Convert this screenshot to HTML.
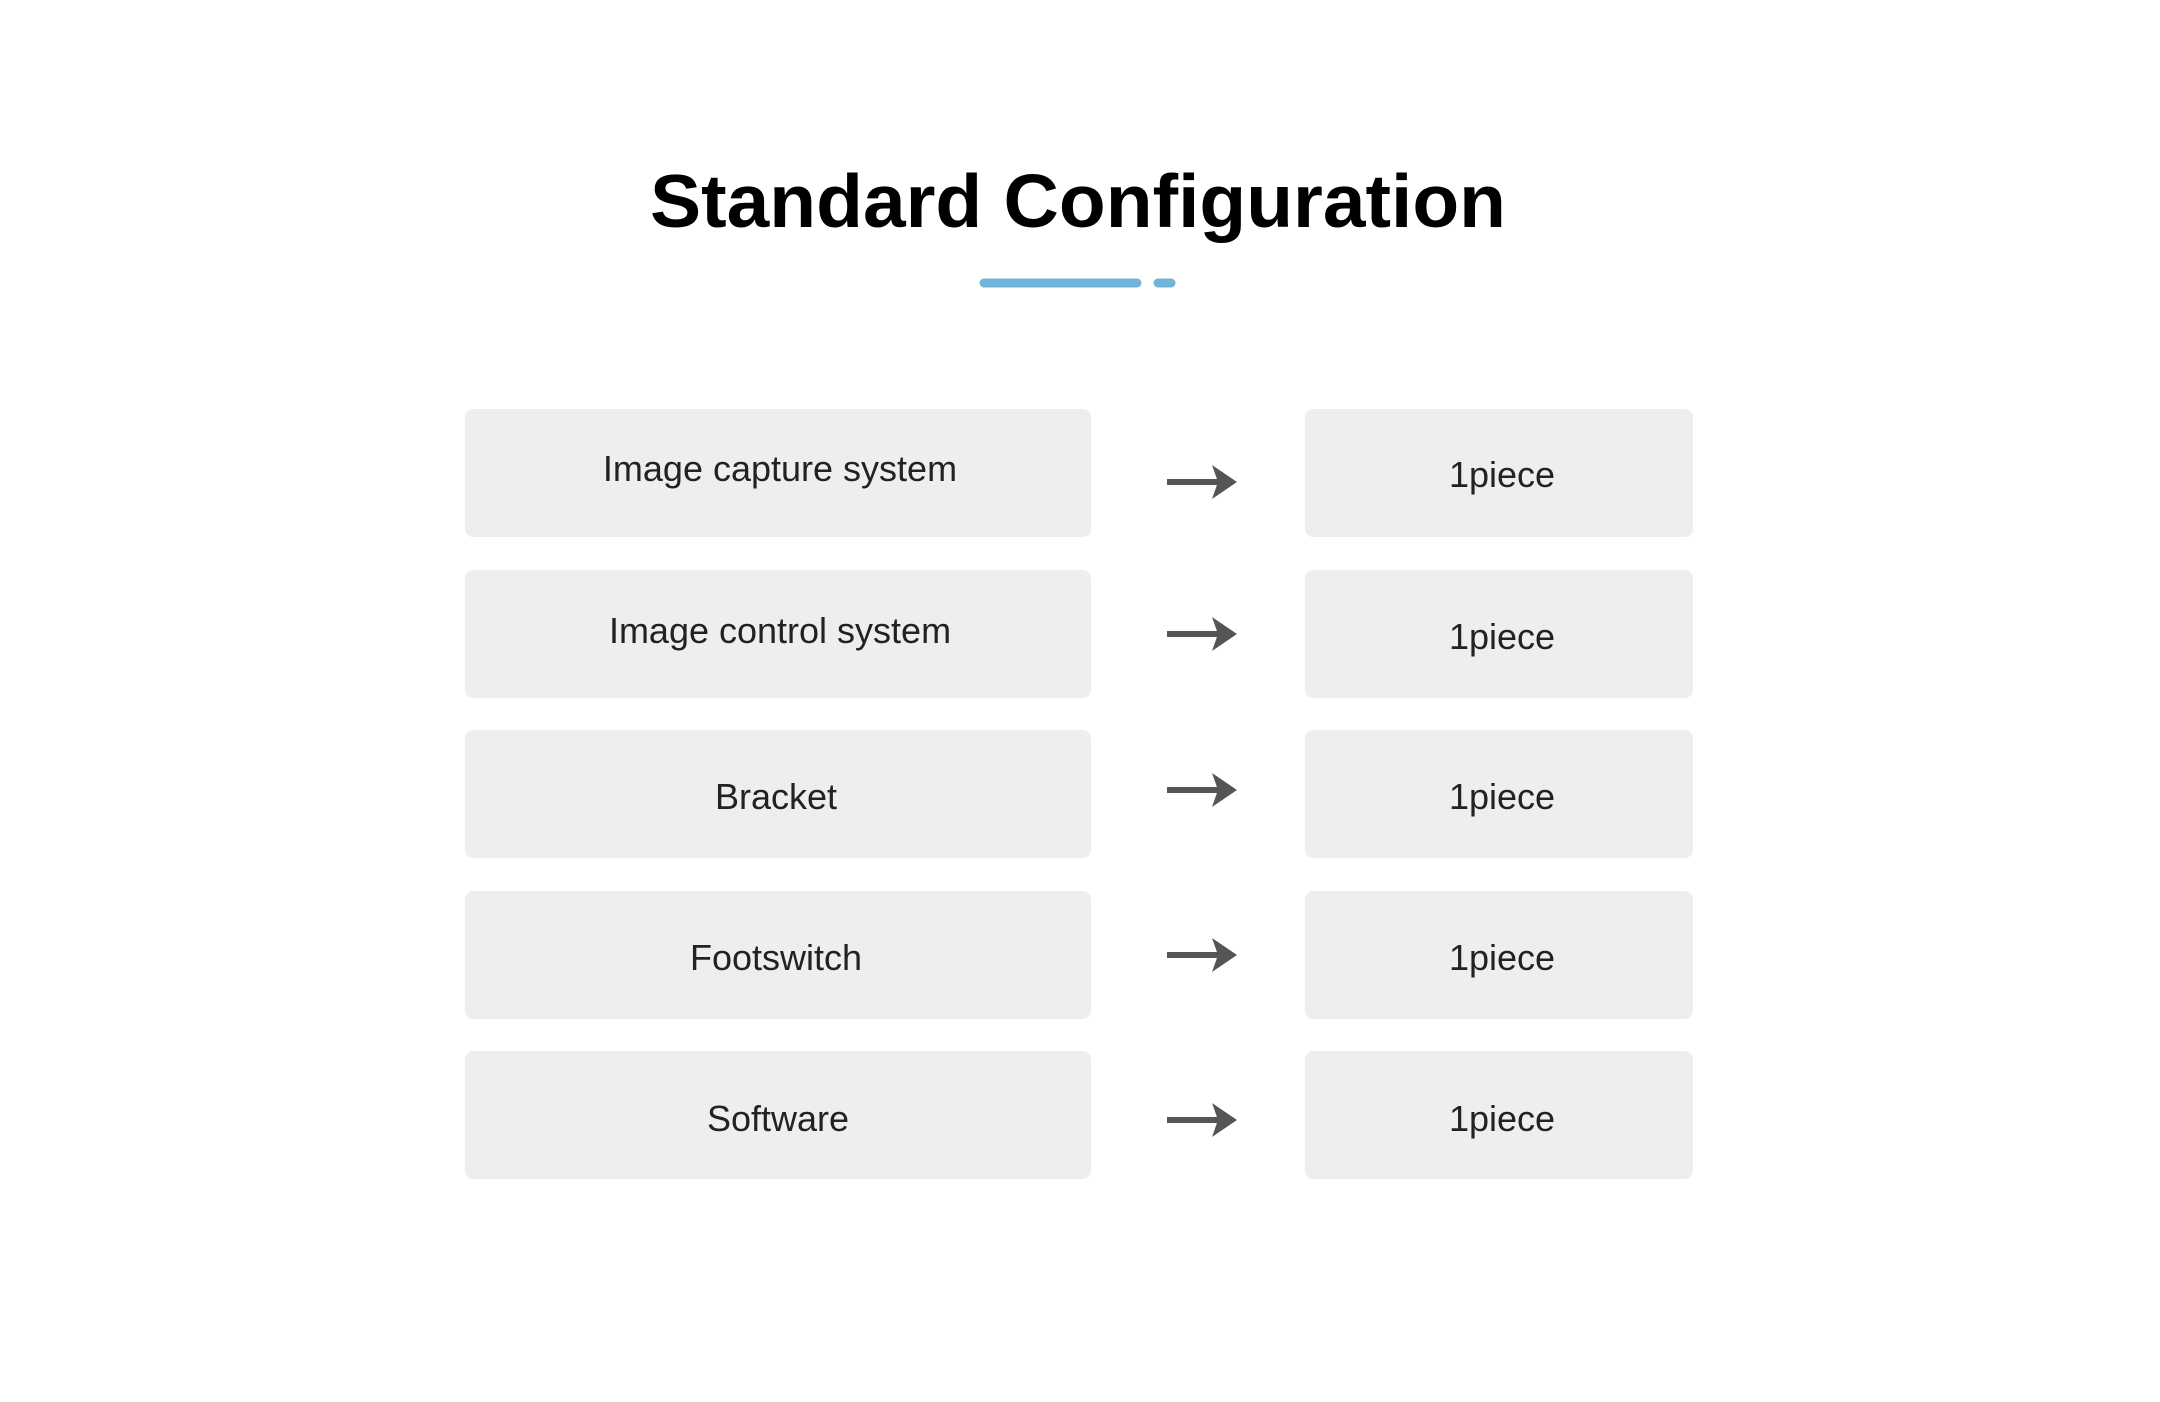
<!DOCTYPE html>
<html><head><meta charset="utf-8"><style>
html,body{margin:0;padding:0;background:#fff;}
svg{display:block;}
text{font-family:"Liberation Sans",sans-serif;}
</style></head><body>
<svg width="2160" height="1402" viewBox="0 0 2160 1402" xmlns="http://www.w3.org/2000/svg">
<rect width="2160" height="1402" fill="#fff"/>
<text x="1078" y="227" text-anchor="middle" font-size="75" font-weight="bold" fill="#000" textLength="856" lengthAdjust="spacingAndGlyphs">Standard Configuration</text>
<line x1="984" y1="283" x2="1137" y2="283" stroke="#6fb5d8" stroke-width="9" stroke-linecap="round"/>
<line x1="1158" y1="283" x2="1171" y2="283" stroke="#6fb5d8" stroke-width="9" stroke-linecap="round"/>
<g fill="#eeeeee">
<rect x="465" y="409" width="626" height="128" rx="8"/>
<rect x="465" y="570" width="626" height="128" rx="8"/>
<rect x="465" y="730" width="626" height="128" rx="8"/>
<rect x="465" y="891" width="626" height="128" rx="8"/>
<rect x="465" y="1051" width="626" height="128" rx="8"/>
<rect x="1305" y="409" width="388" height="128" rx="8"/>
<rect x="1305" y="570" width="388" height="128" rx="8"/>
<rect x="1305" y="730" width="388" height="128" rx="8"/>
<rect x="1305" y="891" width="388" height="128" rx="8"/>
<rect x="1305" y="1051" width="388" height="128" rx="8"/>
</g>
<g font-size="36" fill="#222" text-anchor="middle">
<text x="780" y="481">Image capture system</text>
<text x="780" y="643">Image control system</text>
<text x="776" y="809">Bracket</text>
<text x="776" y="970">Footswitch</text>
<text x="778" y="1131">Software</text>
<text x="1502" y="487">1piece</text>
<text x="1502" y="649">1piece</text>
<text x="1502" y="809">1piece</text>
<text x="1502" y="970">1piece</text>
<text x="1502" y="1131">1piece</text>
</g>
<g fill="#555">
<g transform="translate(0,482)"><rect x="1167" y="-3" width="52" height="6"/><path d="M1212,-17 L1237,0 L1212,17 L1218,0 Z"/></g>
<g transform="translate(0,634)"><rect x="1167" y="-3" width="52" height="6"/><path d="M1212,-17 L1237,0 L1212,17 L1218,0 Z"/></g>
<g transform="translate(0,790)"><rect x="1167" y="-3" width="52" height="6"/><path d="M1212,-17 L1237,0 L1212,17 L1218,0 Z"/></g>
<g transform="translate(0,955)"><rect x="1167" y="-3" width="52" height="6"/><path d="M1212,-17 L1237,0 L1212,17 L1218,0 Z"/></g>
<g transform="translate(0,1120)"><rect x="1167" y="-3" width="52" height="6"/><path d="M1212,-17 L1237,0 L1212,17 L1218,0 Z"/></g>
</g>
</svg>
</body></html>
